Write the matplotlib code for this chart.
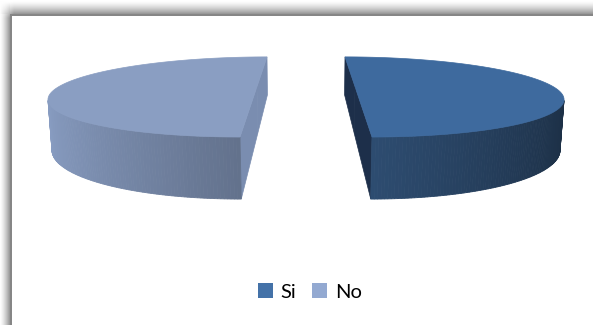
import numpy as np
import matplotlib
matplotlib.use('Agg')
import matplotlib.pyplot as plt
from matplotlib.patches import Polygon, Patch, Rectangle

plt.rcParams['font.family'] = ['Lato', 'DejaVu Sans']

# ---- data ----
labels = ['Si', 'No']
values = [50, 50]

# ---- style ----
legend_colors = ['#4472A8', '#93A9D1']
top_colors = ['#3E6A9E', '#8A9EC2']
cut_colors = ['#1D2F4A', '#7A8DB0']

W, H = 593, 325
fig = plt.figure(figsize=(W / 100, H / 100), dpi=100)
ax = fig.add_axes([0, 0, 1, 1])
ax.set_xlim(0, W)
ax.set_ylim(H, 0)
ax.axis('off')

# ---- picture frame with shadow ----
xx, yy = np.meshgrid(np.arange(W) + 0.5, np.arange(H) + 0.5)
ramp = lambda a, lo, hi: np.clip((a - lo) / (hi - lo), 0, 1)
d_top = np.where(yy < 14, ramp(yy, 1, 14) ** 1.4 * ramp(xx, 0, 14), 0)
d_left = np.where(xx < 10, ramp(xx, 0, 10) ** 1.4 * ramp(yy, 2, 18), 0)
dark = np.maximum(d_top, d_left)
g = 1 - 0.42 * dark
img = np.dstack([g, g, g])
ax.imshow(img, extent=(0, W, H, 0), interpolation='nearest', zorder=0)
ax.add_patch(Rectangle((10, 14), W - 10, 2, facecolor='#868686', edgecolor='none', zorder=1))
ax.add_patch(Rectangle((10, 14), 2, H - 14, facecolor='#868686', edgecolor='none', zorder=1))

# ---- 3D perspective camera ----
theta = np.deg2rad(13.7)
s, c = np.sin(theta), np.cos(theta)
R, h, e = 1.0, 0.2316, 0.2474
Ldist = 3.834
Fx, Fy = 749, 790
cx, cy = 306, 133.7
cam = np.array([0.0, Ldist * s, Ldist * c])


def proj(X, Y, Z):
    X, Y, Z = np.asarray(X, float), np.asarray(Y, float), np.asarray(Z, float)
    d = Ldist - (Y * s + Z * c)
    v = Y * c - Z * s
    return np.column_stack([np.atleast_1d(cx + Fx * X / d), np.atleast_1d(cy - Fy * v / d)])


def shade(col, f):
    rgb = np.array(matplotlib.colors.to_rgb(col))
    return tuple(np.clip(rgb * f, 0, 1))


total = float(sum(values))
start = 0.0
nseg = 240
for i, val in enumerate(values):
    span = 2 * np.pi * val / total
    t0, t1 = start, start + span
    tm = 0.5 * (t0 + t1)
    ox, oz = e * np.sin(tm), -e * np.cos(tm)
    ts = np.linspace(t0, t1, nseg + 1)
    X = ox + R * np.sin(ts)
    Z = oz - R * np.cos(ts)

    # radial cut faces
    for te, sign in ((t0, -1), (t1, 1)):
        n = sign * np.array([np.cos(te), 0.0, np.sin(te)])
        P = np.array([ox, h / 2, oz])
        if np.dot(n, cam - P) > 0:
            rx, rz = ox + R * np.sin(te), oz - R * np.cos(te)
            pts = proj([ox, rx, rx, ox], [h, h, 0, 0], [oz, rz, rz, oz])
            ax.add_patch(Polygon(pts, closed=True, facecolor=cut_colors[i],
                                 edgecolor=cut_colors[i], lw=0.5, zorder=2))

    # curved outer side
    for k in range(nseg):
        ta, tb = ts[k], ts[k + 1]
        tmid = 0.5 * (ta + tb)
        n = np.array([np.sin(tmid), 0.0, -np.cos(tmid)])
        P = np.array([ox + R * np.sin(tmid), h / 2, oz - R * np.cos(tmid)])
        if np.dot(n, cam - P) <= 0:
            continue
        f = 0.67 - 0.27 * n[0]
        col = shade(legend_colors[i], f)
        pts = proj([X[k], X[k + 1], X[k + 1], X[k]], [h, h, 0, 0],
                   [Z[k], Z[k + 1], Z[k + 1], Z[k]])
        ax.add_patch(Polygon(pts, closed=True, facecolor=col, edgecolor=col,
                             lw=0.6, zorder=2))

    # top face
    pts = proj(np.r_[ox, X], np.full(nseg + 2, h), np.r_[oz, Z])
    ax.add_patch(Polygon(pts, closed=True, facecolor=top_colors[i],
                         edgecolor=top_colors[i], lw=0.5, zorder=3))
    start = t1

# ---- legend ----
handles = [Patch(facecolor=legend_colors[i], edgecolor='none', label=labels[i])
           for i in range(len(labels))]
fig.legend(handles=handles, loc='center', bbox_to_anchor=(310 / W, 1 - 292 / H),
           ncol=2, frameon=False, fontsize=14.5, handlelength=0.7, handleheight=0.7,
           handletextpad=0.4, columnspacing=0.8, borderpad=0, borderaxespad=0)

fig.savefig('out.png', dpi=100)
